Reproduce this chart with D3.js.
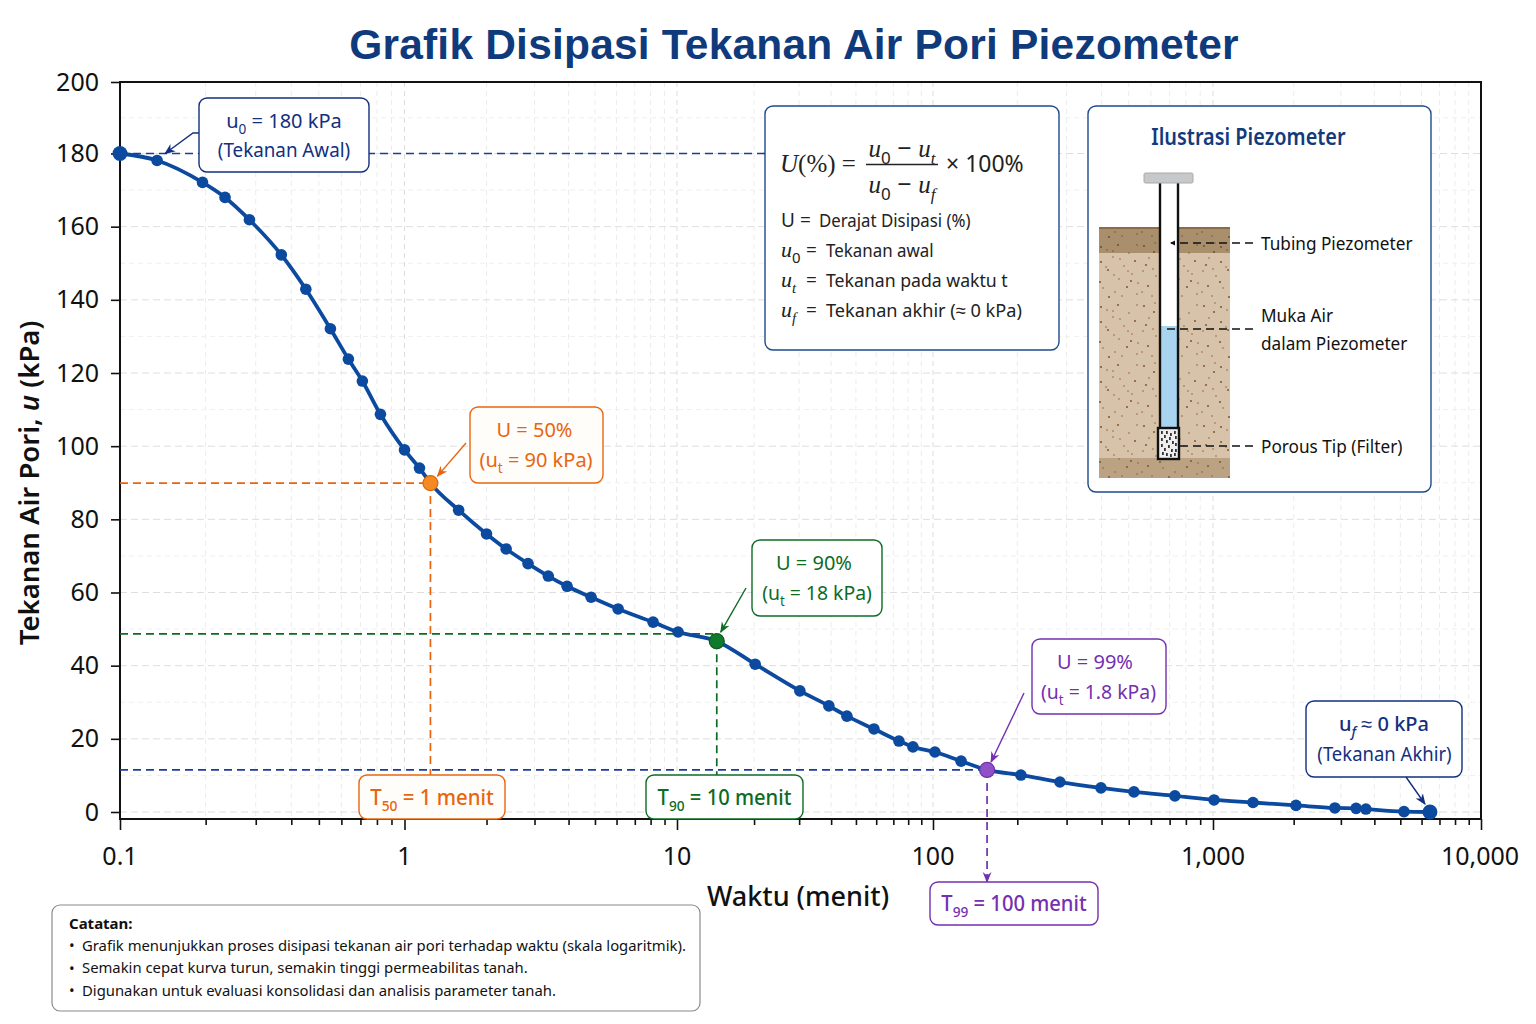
<!DOCTYPE html>
<html>
<head>
<meta charset="utf-8">
<title>Grafik Disipasi Tekanan Air Pori Piezometer</title>
<script src="https://cdn.jsdelivr.net/npm/d3@7"></script>
<style>
  html, body { margin: 0; padding: 0; background: #fff; }
  svg { display: block; }
  text { font-family: "Noto Sans", sans-serif; }
</style>
</head>
<body>
<div id="chart"></div>
<script>
// values
const times = [0.1, 0.135, 0.195, 0.234, 0.285, 0.369, 0.45, 0.549, 0.635, 0.711, 0.823, 1, 1.135, 1.245, 1.58, 2, 2.36, 2.84, 3.37, 3.95, 4.84, 6.08, 8.17, 10.1, 14.3, 20.2, 30.2, 39.2, 46.1, 58.8, 73.6, 83.5, 101.6, 126, 156, 206, 284, 398, 522, 731, 1009, 1410, 2040, 2850, 3420, 3720, 5160, 6450];
const pressures = [180, 178.1, 172.1, 168, 161.9, 152.3, 142.9, 132.1, 123.8, 117.8, 108.7, 99, 94, 89.9, 82.5, 76, 71.9, 67.9, 64.5, 61.7, 58.7, 55.5, 51.9, 49.2, 46.7, 40.4, 33.1, 29, 26.2, 22.7, 19.4, 17.8, 16.4, 13.9, 11.5, 10.1, 8.2, 6.6, 5.5, 4.4, 3.3, 2.6, 1.8, 1.1, 1, 0.8, 0.1, 0];

const xDecades = [0.1, 1, 10, 100, 1000, 10000];
const xDecadeLabels = ["0.1", "1", "10", "100", "1,000", "10,000"];
const yTicks = [0, 20, 40, 60, 80, 100, 120, 140, 160, 180, 200];
const yMinorGrid = [10, 30, 50, 70, 90, 110, 130, 150, 170, 190];

const t50Point = { t: 1.245, u: 89.9 };
const t90Point = { t: 14.3, u: 46.7, guideU: 48.7 };
const t99Point = { t: 156, u: 11.5 };

const noteLines = [
  "Grafik menunjukkan proses disipasi tekanan air pori terhadap waktu (skala logaritmik).",
  "Semakin cepat kurva turun, semakin tinggi permeabilitas tanah.",
  "Digunakan untuk evaluasi konsolidasi dan analisis parameter tanah."
];

// colours
const navy = "#12307f", guideNavy = "#1c3c9a", orange = "#e8650f", green = "#0d6b24", purple = "#7430b0", lineBlue = "#0b4a9e";

const svg = d3.select("#chart").append("svg")
  .attr("width", 1536)
  .attr("height", 1024)
  .attr("viewBox", "0 0 1536 1024");

const defs = svg.append("defs");

function arrowMarker(id, color) {
  defs.append("marker")
    .attr("id", id)
    .attr("viewBox", "0 0 10 10")
    .attr("refX", 9).attr("refY", 5)
    .attr("markerWidth", 11).attr("markerHeight", 11)
    .attr("markerUnits", "userSpaceOnUse")
    .attr("orient", "auto")
    .append("path")
    .attr("d", "M0,1 L10,5 L0,9 L3,5 Z")
    .attr("fill", color);
}
arrowMarker("arNavy", navy);
arrowMarker("arOrange", orange);
arrowMarker("arGreen", green);
arrowMarker("arPurple", purple);

// the axis in the picture is not perfectly even, so each decade has its own stretch
const x = d3.scaleLog()
  .domain(xDecades)
  .range([120, 404.5, 677, 933, 1213, 1481]);

const y = d3.scaleLinear()
  .domain([-1.9, 0, 180, 200])
  .range([819, 812, 153.5, 82]);

const xMinor = [];
xDecades.slice(0, -1).forEach(d => {
  for (let k = 2; k < 10; k++) xMinor.push(d * k);
});

// grid
const grid = svg.append("g").attr("fill", "none");
grid.selectAll(".vgrid")
  .data(xMinor.concat(xDecades.slice(1, -1)))
  .enter().append("line")
  .attr("x1", d => x(d)).attr("x2", d => x(d))
  .attr("y1", 82).attr("y2", 819)
  .attr("stroke", d => xDecades.includes(d) ? "#dcdcdc" : "#ececec")
  .attr("stroke-width", 1)
  .attr("stroke-dasharray", "5,4");
grid.selectAll(".hgrid")
  .data(yTicks.slice(0, -1))
  .enter().append("line")
  .attr("x1", 120).attr("x2", 1481)
  .attr("y1", d => y(d)).attr("y2", d => y(d))
  .attr("stroke", "#dedede")
  .attr("stroke-dasharray", "7,4");
grid.selectAll(".hgrid2")
  .data(yMinorGrid)
  .enter().append("line")
  .attr("x1", 120).attr("x2", 1481)
  .attr("y1", d => y(d)).attr("y2", d => y(d))
  .attr("stroke", "#efefef")
  .attr("stroke-dasharray", "5,4");

// frame and axes
svg.append("rect")
  .attr("x", 120).attr("y", 82)
  .attr("width", 1361).attr("height", 737)
  .attr("fill", "none").attr("stroke", "#111").attr("stroke-width", 2);

const xMajorAxis = d3.axisBottom(x).tickValues(xDecades).tickSize(11).tickSizeOuter(0).tickFormat("");
const xMinorAxis = d3.axisBottom(x).tickValues(xMinor).tickSize(6).tickSizeOuter(0).tickFormat("");
const yAxis = d3.axisLeft(y).tickValues(yTicks).tickSize(9).tickSizeOuter(0).tickPadding(12);

[xMajorAxis, xMinorAxis].forEach(a => {
  const g = svg.append("g").attr("transform", "translate(0,819)").call(a);
  g.select(".domain").remove();
  g.selectAll(".tick line").attr("stroke", "#111").attr("stroke-width", 1.6);
});

const yG = svg.append("g").attr("transform", "translate(120,0)").call(yAxis);
yG.select(".domain").remove();
yG.selectAll(".tick line").attr("stroke", "#111").attr("stroke-width", 1.6);
yG.selectAll(".tick text")
  .attr("font-size", 25)
  .attr("fill", "#111")
  .style("font-family", '"Noto Sans", sans-serif');

svg.selectAll(".xlab")
  .data(xDecades)
  .enter().append("text")
  .attr("x", d => x(d) + (d === 10000 ? -1 : 0))
  .attr("y", 865)
  .attr("text-anchor", "middle")
  .attr("font-size", 25)
  .attr("fill", "#111")
  .text((d, i) => xDecadeLabels[i]);

// title and axis titles
svg.append("text")
  .attr("x", 794).attr("y", 59)
  .attr("text-anchor", "middle")
  .attr("font-size", 42.5)
  .attr("font-weight", 700)
  .attr("letter-spacing", 0.2)
  .attr("fill", "#0f3a7c")
  .style("font-family", '"Liberation Sans", sans-serif')
  .text("Grafik Disipasi Tekanan Air Pori Piezometer");

svg.append("text")
  .attr("x", 798).attr("y", 906)
  .attr("text-anchor", "middle")
  .attr("font-size", 27)
  .attr("font-weight", 500)
  .attr("fill", "#111")
  .text("Waktu (menit)");

const yTitle = svg.append("text")
  .attr("transform", "translate(39,483) rotate(-90)")
  .attr("text-anchor", "middle")
  .attr("font-size", 27.5)
  .attr("font-weight", 600)
  .attr("fill", "#111");
yTitle.append("tspan").text("Tekanan Air Pori, ");
yTitle.append("tspan").attr("font-style", "italic").text("u");
yTitle.append("tspan").text(" (kPa)");

// dashed guides
function guide(x1, y1, x2, y2, color, marker) {
  const l = svg.append("line")
    .attr("x1", x1).attr("y1", y1).attr("x2", x2).attr("y2", y2)
    .attr("stroke", color)
    .attr("stroke-width", 1.7)
    .attr("stroke-dasharray", "8,5");
  if (marker) l.attr("marker-end", `url(#${marker})`);
}
guide(x(0.1), y(180), 766, y(180), guideNavy);
guide(x(0.1), y(t50Point.u) , x(t50Point.t), y(t50Point.u), orange);
guide(x(t50Point.t), y(t50Point.u), x(t50Point.t), 776, orange);
guide(x(0.1), y(t90Point.guideU), x(t90Point.t), y(t90Point.guideU), green);
guide(x(t90Point.t), y(t90Point.u), x(t90Point.t), 776, green);
guide(x(0.1), y(t99Point.u), x(t99Point.t), y(t99Point.u), guideNavy);
guide(x(t99Point.t), y(t99Point.u), x(t99Point.t), 882, purple, "arPurple");

// the curve
const curve = d3.line()
  .x(d => x(d[0]))
  .y(d => y(d[1]))
  .curve(d3.curveMonotoneX);

const series = times.map((t, i) => [t, pressures[i]]);

svg.append("path")
  .datum(series)
  .attr("d", curve)
  .attr("fill", "none")
  .attr("stroke", lineBlue)
  .attr("stroke-width", 3.8);

svg.selectAll(".pt")
  .data(series)
  .enter().append("circle")
  .attr("cx", d => x(d[0]))
  .attr("cy", d => y(d[1]))
  .attr("r", (d, i) => (i === 0 || i === series.length - 1) ? 7.5 : 5.8)
  .attr("fill", lineBlue);

[[t50Point, "#f68a20", "#d9660f"], [t90Point, "#0f7a2c", "#0b5c20"], [t99Point, "#9050c8", "#6f2fa8"]].forEach(h => {
  svg.append("circle")
    .attr("cx", x(h[0].t)).attr("cy", y(h[0].u))
    .attr("r", 7.5)
    .attr("fill", h[1])
    .attr("stroke", h[2])
    .attr("stroke-width", 1.2);
});

// horizontal squeeze, the reference font runs narrower than Noto Sans
function squeeze(t, cx, k) {
  if (k && k !== 1) t.attr("transform", `translate(${cx},0) scale(${k},1) translate(${-cx},0)`);
  return t;
}

// text with subscripts / italics: parts are strings or {sub}, {it}
function richText(parent, tx, ty, parts, opts) {
  const t = parent.append("text")
    .attr("x", tx).attr("y", ty)
    .attr("font-size", opts.size)
    .attr("fill", opts.fill)
    .attr("text-anchor", opts.anchor || "middle");
  if (opts.weight) t.attr("font-weight", opts.weight);
  let shift = 0;
  parts.forEach(p => {
    const s = t.append("tspan");
    if (typeof p === "string") {
      s.text(p).attr("dy", -shift);
      shift = 0;
    } else if (p.sub) {
      s.text(p.sub)
        .attr("dy", opts.size * 0.28 - shift)
        .attr("font-size", opts.size * 0.68);
      if (p.italic) {
        s.attr("font-style", "italic");
        if (opts.mathFont) s.style("font-family", opts.mathFont);
      }
      shift = opts.size * 0.28;
    } else if (p.it) {
      s.text(p.it)
        .attr("dy", -shift)
        .attr("font-style", "italic")
        .style("font-family", opts.mathFont || null);
      shift = 0;
    }
  });
  return squeeze(t, tx, opts.k);
}

function box(bx, by, w, h, color, fill) {
  svg.append("rect")
    .attr("x", bx).attr("y", by)
    .attr("width", w).attr("height", h)
    .attr("rx", 8)
    .attr("fill", fill || "#fff")
    .attr("stroke", color)
    .attr("stroke-width", 1.4);
}

function leader(points, color, marker) {
  svg.append("path")
    .attr("d", d3.line()(points))
    .attr("fill", "none")
    .attr("stroke", color)
    .attr("stroke-width", 1.4)
    .attr("marker-end", `url(#${marker})`);
}

const calloutSize = 20;

// u0
box(199, 98, 170, 74, navy);
richText(svg, 284, 128, ["u", {sub: "0"}, " = 180 kPa"], {size: calloutSize, fill: navy});
richText(svg, 284, 157, ["(Tekanan Awal)"], {size: calloutSize, fill: navy, k: 0.94});
leader([[199, 133], [193, 133], [x(times[1]) + 8, y(180)]], navy, "arNavy");

// U = 50%
box(470, 407, 133, 76, orange, "#fffdfa");
richText(svg, 534.5, 437, ["U = 50%"], {size: calloutSize, fill: orange});
richText(svg, 536, 467, ["(u", {sub: "t"}, " = 90 kPa)"], {size: calloutSize, fill: orange});
leader([[466, 443], [x(t50Point.t) + 7, y(t50Point.u) - 7]], orange, "arOrange");

// U = 90%
box(752, 540, 130, 76, green);
richText(svg, 814, 570, ["U = 90%"], {size: calloutSize, fill: green});
richText(svg, 817, 600, ["(u", {sub: "t"}, " = 18 kPa)"], {size: calloutSize, fill: green, k: 0.97});
leader([[746, 588], [x(t90Point.t) + 4, y(t90Point.u) - 9]], green, "arGreen");

// U = 99%
box(1032, 639, 134, 75, purple);
richText(svg, 1095, 669, ["U = 99%"], {size: calloutSize, fill: purple});
richText(svg, 1098.5, 699, ["(u", {sub: "t"}, " = 1.8 kPa)"], {size: calloutSize, fill: purple, k: 0.97});
leader([[1024, 693], [x(t99Point.t) + 4, y(t99Point.u) - 8]], purple, "arPurple");

// uf
box(1306, 701, 156, 76, navy);
richText(svg, 1384, 731, ["u", {sub: "f", italic: true}, "\u00a0≈ 0 kPa"], {size: calloutSize, fill: navy, weight: 500});
richText(svg, 1384.5, 761, ["(Tekanan Akhir)"], {size: calloutSize, fill: navy, k: 0.925});
leader([[1406, 777], [x(times[times.length - 1]) - 5, y(0) - 8]], navy, "arNavy");

// time labels on the axis
box(359, 775, 146, 44, orange, "#fffdfa");
richText(svg, 432, 805, ["T", {sub: "50"}, " = 1 menit"], {size: 21, fill: orange, weight: 500, k: 0.97});
box(646, 775, 157, 44, green);
richText(svg, 724.5, 805, ["T", {sub: "90"}, " = 10 menit"], {size: 21, fill: green, weight: 500, k: 0.96});
box(930, 882, 168, 43, purple);
richText(svg, 1014, 911, ["T", {sub: "99"}, " = 100 menit"], {size: 21, fill: purple, weight: 500, k: 0.96});

// formula box
box(765, 106, 294, 244, "#1d4a8c");
const mathFont = '"Liberation Serif", serif';
const frac = svg.append("g").attr("fill", "#222");
frac.append("text").attr("x", 780).attr("y", 172)
  .attr("font-size", 25).style("font-family", mathFont)
  .html('<tspan font-style="italic">U</tspan>(%) =');
richText(frac, 902, 157, [{it: "u"}, {sub: "0"}, " − ", {it: "u"}, {sub: "t", italic: true}], {size: 25, fill: "#222", mathFont});
richText(frac, 902, 193, [{it: "u"}, {sub: "0"}, " − ", {it: "u"}, {sub: "f", italic: true}], {size: 25, fill: "#222", mathFont});
frac.append("line").attr("x1", 866).attr("x2", 938).attr("y1", 164.5).attr("y2", 164.5)
  .attr("stroke", "#222").attr("stroke-width", 1.3);
frac.append("text").attr("x", 946).attr("y", 172).attr("font-size", 23).text("× 100%");

const legendRows = [
  [["U"], "Derajat Disipasi (%)"],
  [[{it: "u"}, {sub: "0"}], "Tekanan awal"],
  [[{it: "u"}, {sub: "t", italic: true}], "Tekanan pada waktu t"],
  [[{it: "u"}, {sub: "f", italic: true}], "Tekanan akhir (≈ 0 kPa)"]
];
legendRows.forEach((row, i) => {
  const rowY = 227 + i * 30;
  richText(svg, 781, rowY, row[0], {size: i === 0 ? 19 : 22, fill: "#222", anchor: "start", mathFont});
  svg.append("text").attr("x", i === 0 ? 800 : 806).attr("y", rowY).attr("font-size", 19).attr("fill", "#222").text("=");
  const labelX = i === 0 ? 819 : 826;
  squeeze(svg.append("text").attr("x", labelX).attr("y", rowY).attr("font-size", 19).attr("fill", "#222").text(row[1]),
    labelX, [0.885, 0.89, 0.93, 0.956][i]);
});

// piezometer illustration
box(1088, 106, 343, 386, "#1d4a8c");
squeeze(svg.append("text").attr("x", 1248.5).attr("y", 145)
  .attr("text-anchor", "middle")
  .attr("font-size", 23).attr("font-weight", 600)
  .attr("fill", "#123a7c")
  .text("Ilustrasi Piezometer"), 1248.5, 0.865);

// soil speckle tile
const specks = [[4, 6], [15, 3], [27, 10], [38, 5], [49, 13], [9, 18], [21, 22], [33, 17], [44, 26], [55, 21], [3, 31], [16, 36], [28, 30], [39, 39], [52, 34], [8, 46], [23, 48], [35, 52], [47, 47], [57, 54], [12, 56],
  [21, 7], [33, 11], [57, 5], [14, 12], [40, 19], [26, 27], [6, 25], [48, 31], [34, 35], [20, 42], [58, 43], [42, 56], [29, 57], [2, 52], [13, 29], [51, 41]];
function speckPattern(id, bg, dot) {
  const p = defs.append("pattern")
    .attr("id", id)
    .attr("width", 60).attr("height", 60)
    .attr("patternUnits", "userSpaceOnUse");
  p.append("rect").attr("width", 60).attr("height", 60).attr("fill", bg);
  p.selectAll("circle").data(specks).enter().append("circle")
    .attr("cx", d => d[0]).attr("cy", d => d[1])
    .attr("r", (d, i) => i % 3 === 0 ? 1.1 : 0.75)
    .attr("fill", dot);
}
speckPattern("soilMid", "#d6c3a9", "#8f5a30");
speckPattern("soilTop", "#aa8f6d", "#6d5234");
speckPattern("soilBot", "#bba283", "#7c5f3e");

svg.append("rect").attr("x", 1099).attr("y", 227).attr("width", 131).attr("height", 251).attr("fill", "url(#soilMid)");
svg.append("rect").attr("x", 1099).attr("y", 227).attr("width", 131).attr("height", 26).attr("fill", "url(#soilTop)");
svg.append("rect").attr("x", 1099).attr("y", 458).attr("width", 131).attr("height", 20).attr("fill", "url(#soilBot)");
svg.append("line").attr("x1", 1099).attr("x2", 1230).attr("y1", 228).attr("y2", 228).attr("stroke", "#8c6c46").attr("stroke-width", 2);

svg.append("rect").attr("x", 1160).attr("y", 183).attr("width", 18).attr("height", 245).attr("fill", "#fff");
svg.append("rect").attr("x", 1160).attr("y", 326).attr("width", 18).attr("height", 102).attr("fill", "#a9d4f0");
svg.append("line").attr("x1", 1160).attr("x2", 1160).attr("y1", 183).attr("y2", 428).attr("stroke", "#111").attr("stroke-width", 2.4);
svg.append("line").attr("x1", 1178).attr("x2", 1178).attr("y1", 183).attr("y2", 428).attr("stroke", "#111").attr("stroke-width", 2.4);
svg.append("rect").attr("x", 1144).attr("y", 173).attr("width", 49).attr("height", 10).attr("rx", 1.5)
  .attr("fill", "#c6c8ca").attr("stroke", "#a8aaac");

const tipSpecks = [[1161, 431], [1164, 435], [1166, 431], [1170, 433], [1174, 431], [1175, 436], [1161, 438], [1166, 440], [1169, 437], [1172, 441], [1175, 443], [1161, 444], [1164, 448], [1168, 445], [1171, 449], [1175, 449], [1162, 452], [1166, 453], [1170, 454], [1174, 453]];
svg.append("rect").attr("x", 1158).attr("y", 428).attr("width", 21).attr("height", 31)
  .attr("fill", "#eee").attr("stroke", "#111").attr("stroke-width", 2.4);
svg.selectAll(".tipspeck").data(tipSpecks).enter().append("rect")
  .attr("x", d => d[0]).attr("y", d => d[1])
  .attr("width", 1.8).attr("height", 3)
  .attr("fill", "#333");

function pzLeader(fromX, ly) {
  svg.append("line")
    .attr("x1", 1253).attr("x2", fromX)
    .attr("y1", ly).attr("y2", ly)
    .attr("stroke", "#111")
    .attr("stroke-width", 1.4)
    .attr("stroke-dasharray", "8,5");
}
pzLeader(1171, 243);
pzLeader(1163, 329);
pzLeader(1175, 446);
svg.append("path").attr("d", "M1170,243 L1175,240.5 L1175,245.5 Z").attr("fill", "#111");

[["Tubing Piezometer", 250], ["Muka Air", 322], ["dalam Piezometer", 350], ["Porous Tip (Filter)", 453]].forEach(d => {
  squeeze(svg.append("text").attr("x", 1261).attr("y", d[1]).attr("font-size", 19).attr("fill", "#111").text(d[0]), 1261, 0.905);
});

// notes
svg.append("rect")
  .attr("x", 52).attr("y", 905)
  .attr("width", 648).attr("height", 106)
  .attr("rx", 8)
  .attr("fill", "#fff")
  .attr("stroke", "#8a8a8a")
  .attr("stroke-width", 1.2);
svg.append("text").attr("x", 69).attr("y", 929)
  .attr("font-size", 15).attr("font-weight", 700).attr("fill", "#111").text("Catatan:");
noteLines.forEach((line, i) => {
  const ly = 951 + i * 22.5;
  svg.append("text").attr("x", 69).attr("y", ly).attr("font-size", 15).attr("fill", "#111").text("•");
  squeeze(svg.append("text").attr("x", 82).attr("y", ly).attr("font-size", 15).attr("fill", "#111").text(line), 82, 0.99);
});
</script>
</body>
</html>
